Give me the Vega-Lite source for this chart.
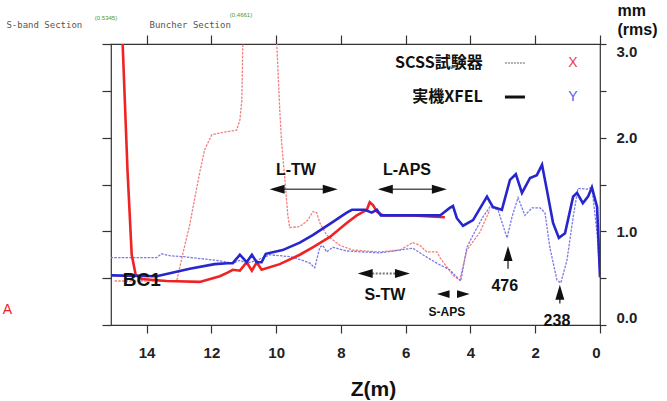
{
"$schema":"https://vega.github.io/schema/vega-lite/v6.json",
"width":489,"height":281,
"autosize":{"type":"none"},
"padding":{"left":111,"top":44,"right":67,"bottom":76},
"background":"white",
"config":{"view":{"stroke":"#333","strokeWidth":1.2},"axis":{"grid":false,"domain":false,"tickColor":"#333","tickWidth":1.2,"labelFont":"Liberation Sans","titleFont":"Liberation Sans","labelColor":"#222","titleColor":"#111"}},
"datasets":{
"sx":[{"z":14.99,"v":0.47},{"z":14.22,"v":0.47},{"z":13.07,"v":0.47},{"z":12.89,"v":0.75},{"z":12.67,"v":1.07},{"z":12.36,"v":1.63},{"z":12.21,"v":1.87},{"z":11.99,"v":2.03},{"z":11.59,"v":2.06},{"z":11.22,"v":2.08},{"z":11.12,"v":2.19},{"z":11.06,"v":2.4},{"z":11.03,"v":3.0},{"z":11.02,"v":3.4},{"z":10.5,"v":3.8},{"z":9.99,"v":3.4},{"z":9.98,"v":3.0},{"z":9.89,"v":2.3},{"z":9.83,"v":1.94},{"z":9.73,"v":1.55},{"z":9.64,"v":1.17},{"z":9.58,"v":1.04},{"z":9.27,"v":1.05},{"z":9.02,"v":1.12},{"z":8.87,"v":1.21},{"z":8.75,"v":1.2},{"z":8.65,"v":1.09},{"z":8.44,"v":0.96},{"z":8.03,"v":0.85},{"z":7.63,"v":0.8},{"z":6.8,"v":0.78},{"z":6.18,"v":0.8},{"z":5.78,"v":0.88},{"z":5.56,"v":0.85},{"z":5.35,"v":0.78},{"z":5.04,"v":0.78},{"z":4.94,"v":0.72},{"z":4.54,"v":0.53},{"z":4.33,"v":0.48},{"z":4.11,"v":0.8},{"z":3.71,"v":0.99},{"z":3.4,"v":1.23}],
"sy":[{"z":15.11,"v":0.72},{"z":13.69,"v":0.72},{"z":13.54,"v":0.76},{"z":13.29,"v":0.74},{"z":12.89,"v":0.73},{"z":11.84,"v":0.69},{"z":11.34,"v":0.66},{"z":11.12,"v":0.69},{"z":10.91,"v":0.66},{"z":10.6,"v":0.69},{"z":10.2,"v":0.75},{"z":9.58,"v":0.73},{"z":9.18,"v":0.69},{"z":8.96,"v":0.66},{"z":8.81,"v":0.61},{"z":8.65,"v":0.83},{"z":8.56,"v":0.85},{"z":8.44,"v":0.78},{"z":8.25,"v":0.83},{"z":7.82,"v":0.79},{"z":6.8,"v":0.77},{"z":6.18,"v":0.8},{"z":5.78,"v":0.82},{"z":5.47,"v":0.75},{"z":5.04,"v":0.66},{"z":4.64,"v":0.59},{"z":4.39,"v":0.5},{"z":4.3,"v":0.47},{"z":4.11,"v":0.83},{"z":3.92,"v":0.96},{"z":3.62,"v":1.15},{"z":3.4,"v":1.26},{"z":3.15,"v":1.23},{"z":3.03,"v":1.1},{"z":2.87,"v":0.93},{"z":2.72,"v":1.15},{"z":2.53,"v":1.36},{"z":2.32,"v":1.17},{"z":2.1,"v":1.25},{"z":1.85,"v":1.25},{"z":1.7,"v":1.2},{"z":1.55,"v":0.83},{"z":1.33,"v":0.48},{"z":1.21,"v":0.45},{"z":1.02,"v":0.69},{"z":0.83,"v":1.15},{"z":0.68,"v":1.46},{"z":0.4,"v":1.45},{"z":0.25,"v":1.47},{"z":0.09,"v":0.98},{"z":0.0,"v":0.51}],
"xx":[{"z":14.78,"v":3.4},{"z":14.74,"v":3.0},{"z":14.59,"v":1.65},{"z":14.46,"v":0.75},{"z":14.34,"v":0.54},{"z":14.15,"v":0.49},{"z":13.38,"v":0.47},{"z":12.36,"v":0.46},{"z":11.74,"v":0.52},{"z":11.5,"v":0.56},{"z":11.34,"v":0.59},{"z":11.12,"v":0.58},{"z":10.91,"v":0.67},{"z":10.75,"v":0.58},{"z":10.6,"v":0.67},{"z":10.45,"v":0.59},{"z":9.89,"v":0.65},{"z":9.27,"v":0.75},{"z":8.87,"v":0.83},{"z":8.34,"v":0.94},{"z":7.82,"v":1.09},{"z":7.51,"v":1.17},{"z":7.2,"v":1.23},{"z":7.11,"v":1.31},{"z":7.01,"v":1.28},{"z":6.89,"v":1.21},{"z":6.71,"v":1.17},{"z":5.78,"v":1.17},{"z":5.25,"v":1.16},{"z":4.79,"v":1.15}],
"xy":[{"z":15.11,"v":0.53},{"z":13.69,"v":0.52},{"z":12.67,"v":0.6},{"z":11.9,"v":0.65},{"z":11.5,"v":0.66},{"z":11.34,"v":0.66},{"z":11.12,"v":0.75},{"z":10.91,"v":0.67},{"z":10.75,"v":0.75},{"z":10.6,"v":0.67},{"z":10.45,"v":0.67},{"z":10.32,"v":0.76},{"z":9.8,"v":0.8},{"z":9.27,"v":0.88},{"z":8.87,"v":0.96},{"z":8.34,"v":1.08},{"z":7.82,"v":1.2},{"z":7.66,"v":1.23},{"z":7.26,"v":1.23},{"z":7.05,"v":1.2},{"z":6.89,"v":1.23},{"z":6.77,"v":1.17},{"z":5.78,"v":1.17},{"z":4.94,"v":1.17},{"z":4.64,"v":1.25},{"z":4.54,"v":1.27},{"z":4.42,"v":1.14},{"z":4.23,"v":1.06},{"z":3.92,"v":1.12},{"z":3.49,"v":1.37},{"z":3.31,"v":1.26},{"z":3.03,"v":1.23},{"z":2.78,"v":1.55},{"z":2.6,"v":1.61},{"z":2.41,"v":1.41},{"z":2.16,"v":1.57},{"z":1.95,"v":1.6},{"z":1.79,"v":1.71},{"z":1.64,"v":1.44},{"z":1.45,"v":1.09},{"z":1.27,"v":0.93},{"z":1.08,"v":0.98},{"z":0.83,"v":1.37},{"z":0.71,"v":1.41},{"z":0.53,"v":1.3},{"z":0.37,"v":1.37},{"z":0.25,"v":1.47},{"z":0.09,"v":1.26},{"z":0.0,"v":0.51}],
"shafts":[{"z1":9.97,"z2":8.33,"v":1.45},{"z1":6.63,"z2":4.96,"v":1.45}],
"dshafts":[{"z1":7.25,"z2":6.1,"v":0.55}],
"vshafts":[{"z":2.84,"v1":0.76,"v2":0.6},{"z":1.24,"v1":0.35,"v2":0.23}],
"heads":[{"z":9.97,"v":1.45,"dir":"L"},{"z":8.33,"v":1.45,"dir":"R"},{"z":6.63,"v":1.45,"dir":"L"},{"z":4.96,"v":1.45,"dir":"R"},{"z":7.25,"v":0.55,"dir":"L"},{"z":6.1,"v":0.55,"dir":"R"},{"z":2.84,"v":0.763,"dir":"U"},{"z":1.24,"v":0.35,"dir":"U"}],
"smallheads":[{"z":4.84,"v":0.33,"dir":"L"},{"z":4.22,"v":0.33,"dir":"R"}],
"labels":[{"label":"L-TW","z":9.39,"v":1.65},{"label":"L-APS","z":5.96,"v":1.655},{"label":"S-TW","z":6.64,"v":0.32},{"label":"476","z":2.94,"v":0.42},{"label":"238","z":1.33,"v":0.04}],
"bc1":[{"label":"BC1","z":14.15,"v":0.48}],
"saps":[{"label":"S-APS","z":4.73,"v":0.14}],
"legtext":[{"label":"SCSS試験器","z":3.62,"v":2.797},{"label":"実機XFEL","z":3.62,"v":2.434}],
"legxy":[{"label":"X","z":0.834,"v":2.797},{"label":"Y","z":0.834,"v":2.434}],
"legthin":[{"z1":2.936,"z2":2.318,"v":2.797}],
"legthick":[{"z1":2.936,"z2":2.318,"v":2.434}],
"scan":[{"label":"S-band Section","z":18.33,"v":3.2},{"label":"Buncher Section","z":13.91,"v":3.2}],
"green":[{"label":"(0.5345)","z":15.6,"v":3.28},{"label":"(0.4661)","z":11.43,"v":3.31}],
"mark":[{"label":"A","z":18.3,"v":0.16}]
},
"layer":[
{"data":{"name":"sx"},"mark":{"type":"line","clip":true,"color":"#f28080","strokeWidth":1.3,"strokeDash":[2.5,1.2]},
 "encoding":{
  "x":{"field":"z","type":"quantitative","scale":{"domain":[0,15.1],"reverse":true,"nice":false,"zero":false},
   "axis":{"orient":"bottom","values":[0,2,4,6,8,10,12,14],"tickSize":8,"labelFontSize":15,"labelFontWeight":"bold","labelPadding":12,"title":"Z(m)","titleFontSize":21,"titleFontWeight":"bold","titleX":262,"titleY":70,"titleBaseline":"alphabetic"}},
  "y":{"field":"v","type":"quantitative","scale":{"domain":[0,3],"nice":false,"zero":false},
   "axis":{"orient":"left","values":[0,0.5,1,1.5,2,2.5,3],"tickSize":9,"labels":false,"title":null}}}},
{"data":{"name":"sy"},"mark":{"type":"line","clip":true,"color":"#7a7aea","strokeWidth":1.3,"strokeDash":[2.5,1.2]},
 "encoding":{
  "x":{"field":"z","type":"quantitative","axis":{"orient":"top","values":[0,2,4,6,8,10,12,14],"tickSize":9,"labels":false,"title":null}},
  "y":{"field":"v","type":"quantitative","axis":{"orient":"right","values":[0,0.5,1,1.5,2,2.5,3],"tickSize":6,"labelExpr":"datum.value % 1 === 0 ? format(datum.value, '.1f') : ''","labelFontSize":15,"labelFontWeight":"bold","labelPadding":10,"labelFlush":true,"title":["mm","(rms)"],"titleAngle":0,"titleX":17,"titleY":-42,"titleAlign":"left","titleBaseline":"top","titleFontSize":16,"titleFontWeight":"bold","titleLineHeight":19}}}},
{"data":{"name":"xx"},"mark":{"type":"line","clip":true,"color":"#ee2424","strokeWidth":2.6},
 "encoding":{"x":{"field":"z","type":"quantitative","axis":null},"y":{"field":"v","type":"quantitative","axis":null}}},
{"data":{"name":"xy"},"mark":{"type":"line","clip":true,"color":"#2626cc","strokeWidth":2.6},
 "encoding":{"x":{"field":"z","type":"quantitative","axis":null},"y":{"field":"v","type":"quantitative","axis":null}}},
{"data":{"name":"shafts"},"mark":{"type":"rule","color":"#555","strokeWidth":1.5},
 "encoding":{"x":{"field":"z1","type":"quantitative","axis":null},"x2":{"field":"z2"},"y":{"field":"v","type":"quantitative","axis":null}}},
{"data":{"name":"dshafts"},"mark":{"type":"rule","color":"#777","strokeWidth":2,"strokeDash":[2,1.5]},
 "encoding":{"x":{"field":"z1","type":"quantitative","axis":null},"x2":{"field":"z2"},"y":{"field":"v","type":"quantitative","axis":null}}},
{"data":{"name":"vshafts"},"mark":{"type":"rule","color":"#444","strokeWidth":1.5},
 "encoding":{"x":{"field":"z","type":"quantitative","axis":null},"y":{"field":"v1","type":"quantitative","axis":null},"y2":{"field":"v2"}}},
{"data":{"name":"heads"},"mark":{"type":"point","filled":true,"color":"#111","size":225,"opacity":1,"strokeWidth":0},
 "encoding":{"x":{"field":"z","type":"quantitative","axis":null},"y":{"field":"v","type":"quantitative","axis":null},
  "shape":{"field":"dir","type":"nominal","scale":{"domain":["L","R","U"],"range":["M-1,0L1,-0.6L1,0.6Z","M1,0L-1,-0.6L-1,0.6Z","M0,-1L0.6,1L-0.6,1Z"]},"legend":null}}},
{"data":{"name":"smallheads"},"mark":{"type":"point","filled":true,"color":"#111","size":160,"opacity":1,"strokeWidth":0},
 "encoding":{"x":{"field":"z","type":"quantitative","axis":null},"y":{"field":"v","type":"quantitative","axis":null},
  "shape":{"field":"dir","type":"nominal","scale":{"domain":["L","R","U"],"range":["M-1,0L1,-0.6L1,0.6Z","M1,0L-1,-0.6L-1,0.6Z","M0,-1L0.6,1L-0.6,1Z"]},"legend":null}}},
{"data":{"name":"labels"},"mark":{"type":"text","font":"Liberation Sans","fontWeight":"bold","fontSize":16,"color":"#111","align":"center","baseline":"middle"},
 "encoding":{"x":{"field":"z","type":"quantitative","axis":null},"y":{"field":"v","type":"quantitative","axis":null},"text":{"field":"label"}}},
{"data":{"name":"bc1"},"mark":{"type":"text","font":"Liberation Sans","fontWeight":"bold","fontSize":19,"color":"#111","align":"center","baseline":"middle"},
 "encoding":{"x":{"field":"z","type":"quantitative","axis":null},"y":{"field":"v","type":"quantitative","axis":null},"text":{"field":"label"}}},
{"data":{"name":"saps"},"mark":{"type":"text","font":"Liberation Sans","fontWeight":"bold","fontSize":12,"color":"#111","align":"center","baseline":"middle"},
 "encoding":{"x":{"field":"z","type":"quantitative","axis":null},"y":{"field":"v","type":"quantitative","axis":null},"text":{"field":"label"}}},
{"data":{"name":"legtext"},"mark":{"type":"text","font":"Noto Sans CJK JP","fontWeight":"bold","fontSize":16,"color":"#111","align":"right","baseline":"middle"},
 "encoding":{"x":{"field":"z","type":"quantitative","axis":null},"y":{"field":"v","type":"quantitative","axis":null},"text":{"field":"label"}}},
{"data":{"name":"legxy"},"mark":{"type":"text","font":"Liberation Sans","fontSize":14,"align":"center","baseline":"middle"},
 "encoding":{"x":{"field":"z","type":"quantitative","axis":null},"y":{"field":"v","type":"quantitative","axis":null},"text":{"field":"label"},
  "color":{"field":"label","type":"nominal","scale":{"domain":["X","Y"],"range":["#f03a5a","#5a5ae6"]},"legend":null}}},
{"data":{"name":"legthin"},"mark":{"type":"rule","color":"#999","strokeWidth":1.3,"strokeDash":[2,1]},
 "encoding":{"x":{"field":"z1","type":"quantitative","axis":null},"x2":{"field":"z2"},"y":{"field":"v","type":"quantitative","axis":null}}},
{"data":{"name":"legthick"},"mark":{"type":"rule","color":"#111","strokeWidth":3},
 "encoding":{"x":{"field":"z1","type":"quantitative","axis":null},"x2":{"field":"z2"},"y":{"field":"v","type":"quantitative","axis":null}}},
{"data":{"name":"scan"},"mark":{"type":"text","font":"DejaVu Sans Mono","fontSize":9,"color":"#555","align":"left","baseline":"middle"},
 "encoding":{"x":{"field":"z","type":"quantitative","axis":null},"y":{"field":"v","type":"quantitative","axis":null},"text":{"field":"label"}}},
{"data":{"name":"green"},"mark":{"type":"text","font":"Liberation Sans","fontSize":6,"color":"#3a9a3a","align":"left","baseline":"middle"},
 "encoding":{"x":{"field":"z","type":"quantitative","axis":null},"y":{"field":"v","type":"quantitative","axis":null},"text":{"field":"label"}}},
{"data":{"name":"mark"},"mark":{"type":"text","font":"Liberation Sans","fontSize":14,"color":"#ee2222","align":"center","baseline":"middle"},
 "encoding":{"x":{"field":"z","type":"quantitative","axis":null},"y":{"field":"v","type":"quantitative","axis":null},"text":{"field":"label"}}}
]
}
